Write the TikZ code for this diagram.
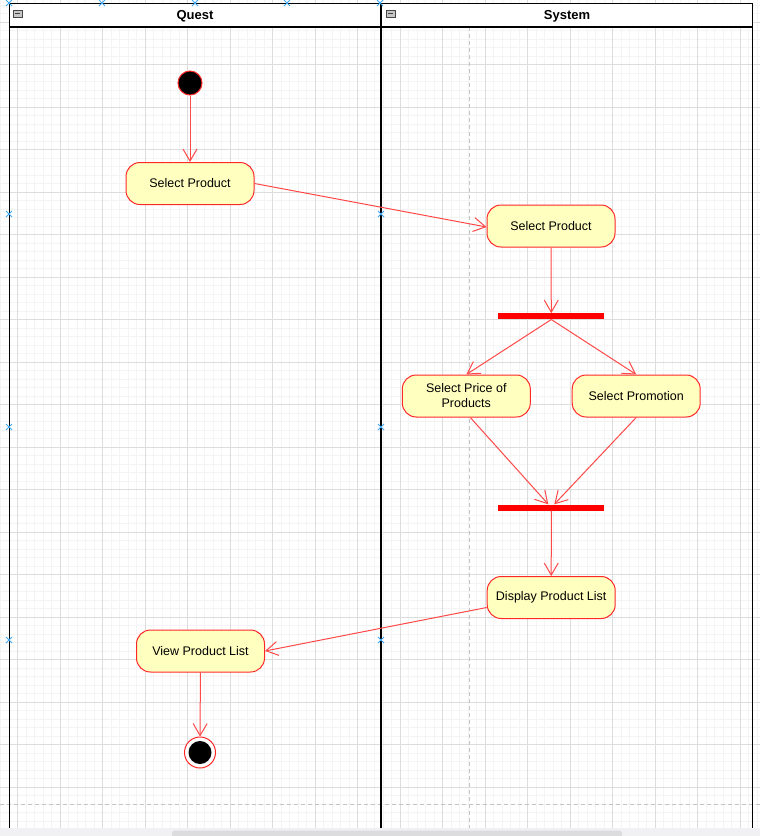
\documentclass[tikz,border=0pt]{standalone}
\usepackage{fontspec}
\setmainfont{Liberation Sans}
\usetikzlibrary{arrows.meta}
\definecolor{nodefill}{HTML}{FFFFC0}
\definecolor{nodeline}{HTML}{FF2828}
\definecolor{edgecol}{HTML}{FF4848}
\definecolor{barred}{HTML}{FF0000}
\definecolor{majgrid}{HTML}{DDDDDD}
\definecolor{mingrid}{HTML}{F4F4F4}
\definecolor{dashgray}{HTML}{C4C4C4}
\definecolor{handlecol}{HTML}{3FA9F5}
\definecolor{stripgray}{HTML}{F1F1F3}
\definecolor{thumbgray}{HTML}{DCDCDE}
\tikzset{
  activity/.style={draw=nodeline, fill=nodefill, line width=1pt, rounded corners=14pt,
    minimum width=128pt, minimum height=42pt, inner sep=2pt, align=center,
    font=\fontsize{12.5}{15}\selectfont},
  syncbar/.style={fill=barred, draw=none, minimum width=106pt, minimum height=6pt, inner sep=0pt},
  initnode/.style={circle, fill=black, draw=nodeline, line width=1pt, minimum size=24pt, inner sep=0pt},
  finalnode/.style={circle, fill=white, draw=nodeline, line width=1pt, minimum size=31pt, inner sep=0pt},
  flow/.style={draw=edgecol, line width=1pt, -{Straight Barb[length=12pt,width=14pt,line width=1pt]}},
  lanetitle/.style={font=\fontsize{13}{15}\selectfont\bfseries, inner sep=0pt},
  laneline/.style={draw=black, line width=1.3pt},
  handle/.style={draw=handlecol, line width=1pt},
  dashline/.style={draw=dashgray, line width=0.9pt, dash pattern=on 4pt off 3pt}
}
\begin{document}
\begin{tikzpicture}[x=1pt,y=-1pt]
\useasboundingbox (0,0) rectangle (760,836);
\fill[white] (0,0) rectangle (760,836);
% grid
\foreach \i in {0,...,89} \draw[mingrid, line width=0.7pt] ({0.5+8.5*\i},0) -- ({0.5+8.5*\i},828);
\foreach \i in {0,...,96} \draw[mingrid, line width=0.7pt] (0,{5+8.5*\i}) -- (760,{5+8.5*\i});
\foreach \i in {0,...,17} \draw[majgrid, line width=0.9pt] ({17.5+42.5*\i},0) -- ({17.5+42.5*\i},828);
\foreach \i in {0,...,18} \draw[majgrid, line width=0.9pt] (0,{22+42.5*\i}) -- (760,{22+42.5*\i});
% dashed guides
\draw[dashline] (469.5,27) -- (469.5,828);
\draw[dashline] (0,804) -- (760,804);
% bottom strip
\fill[stripgray] (0,828) rectangle (760,836);
\fill[thumbgray, rounded corners=3pt] (172,830.5) rectangle (622,840);
% lanes
\fill[white] (9.5,3.5) rectangle (752.5,27);
\draw[laneline] (9.5,828) -- (9.5,3.5) -- (752.5,3.5) -- (752.5,828);
\draw[laneline] (381,3.5) -- (381,828);
\draw[laneline] (9.5,27) -- (752.5,27);
\foreach \x in {13,386} {
  \draw[fill=gray!45, draw=gray!55!black, line width=0.6pt] (\x,10) rectangle (\x+9,17.5);
  \draw[black!75, line width=1pt] (\x+2,13.75) -- (\x+7,13.75);
}
\node[lanetitle] (quest) at (195,16) {Quest};
\node[lanetitle] (system) at (567,16) {System};
% selection handles
\foreach \px/\py in {9/3,102/3,195/3,287/3,380/3,9/214,9/427,9/640,381/214,381/427,381/640}
  \draw[handle] (\px-3,\py-3) -- (\px+3,\py+3) (\px-3,\py+3) -- (\px+3,\py-3);
% nodes
\node[initnode] (start) at (190,83) {};
\node[activity] (sp1) at (190,183.5) {Select Product};
\node[activity] (sp2) at (551,226) {Select Product};
\node[syncbar] (fork) at (551.3,316.3) {};
\node[activity] (spp) at (466.3,396) {Select Price of\\Products};
\node[activity] (spr) at (636.2,396) {Select Promotion};
\node[syncbar] (join) at (551.3,507.5) {};
\node[activity] (dpl) at (551.2,597.5) {Display Product List};
\node[activity] (vpl) at (200.5,651) {View Product List};
\node[finalnode] (stop) at (200,752.5) {};
\node[circle, fill=black, minimum size=23pt, inner sep=0pt] (stopdot) at (stop) {};
% flows
\draw[flow] (start) -- (sp1);
\draw[flow] (sp1.east) -- ([yshift=-1pt]sp2.west);
\draw[flow] (sp2) -- (fork);
\draw[flow] (fork.south) -- (spp.north);
\draw[flow] (fork.south) -- (spr.north);
\draw[flow] ([xshift=4pt]spp.south) -- ([xshift=-3pt]join.north);
\draw[flow] (spr.south) -- ([xshift=3pt]join.north);
\draw[flow] (join) -- (dpl);
\draw[flow] ([yshift=-10pt]dpl.west) -- (vpl.east);
\draw[flow] (vpl) -- (stop);
\end{tikzpicture}
\end{document}
